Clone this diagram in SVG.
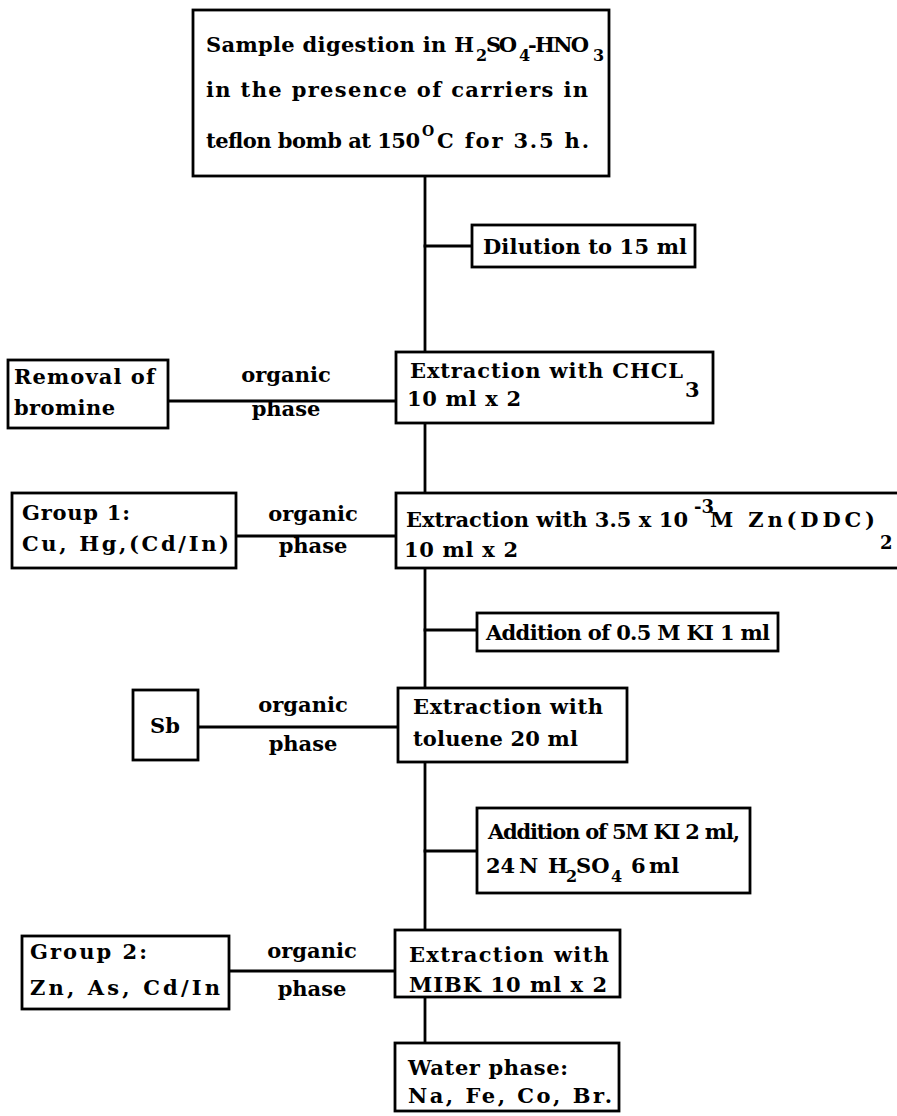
<svg xmlns="http://www.w3.org/2000/svg" width="897" height="1116" viewBox="0 0 897 1116">
<style>
.box{fill:#fff;stroke:#000;stroke-width:2.8}
.ln{stroke:#000;stroke-width:2.8;fill:none;stroke-linecap:square}
.t{font-family:"DejaVu Serif","Liberation Serif",serif;font-weight:bold;font-size:21px;fill:#000}
.s{font-family:"DejaVu Serif","Liberation Serif",serif;font-weight:bold;font-size:16px;fill:#000}
.c{text-anchor:middle}
</style>
<rect width="897" height="1116" fill="#fff"/>
<g id="connectors">
<path class="ln" d="M425,176V352M425,423V493M425,568V688M425,762V930M425,997V1043"/>
<path class="ln" d="M425,246H472M425,630H477M425,851H477"/>
<path class="ln" d="M168,401H396M236,536H396M198,727H398M229,971H395"/>
<text class="t c" x="286" y="382">organic</text>
<text class="t c" x="286" y="416">phase</text>
<text class="t c" x="313" y="521">organic</text>
<text class="t c" x="313" y="553">phase</text>
<text class="t c" x="303" y="712">organic</text>
<text class="t c" x="303" y="751">phase</text>
<text class="t c" x="312" y="958">organic</text>
<text class="t c" x="312" y="996">phase</text>
</g>
<g id="digestion">
<rect class="box" x="193" y="10" width="416" height="166"/>
<text class="t" x="206" y="52" textLength="268" lengthAdjust="spacing">Sample digestion in H</text>
<text class="s" x="476" y="61">2</text>
<text class="t" x="486" y="52" textLength="31" lengthAdjust="spacing">SO</text>
<text class="s" x="519" y="61">4</text>
<text class="t" x="528" y="52" textLength="61" lengthAdjust="spacing">-HNO</text>
<text class="s" x="593" y="61">3</text>
<text class="t" x="206" y="97" textLength="382" lengthAdjust="spacing">in the presence of carriers in</text>
<text class="t" x="206" y="148" textLength="214" lengthAdjust="spacing">teflon bomb at 150</text>
<text class="s" x="422" y="136" style="font-size:14px">O</text>
<text class="t" x="437" y="148" textLength="152" lengthAdjust="spacing">C for 3.5 h.</text>
</g>
<g id="dilution">
<rect class="box" x="472" y="225" width="223" height="42"/>
<text class="t" x="483" y="254" textLength="204" lengthAdjust="spacing">Dilution to 15 ml</text>
</g>
<g id="extraction-chcl3">
<rect class="box" x="396" y="352" width="317" height="71"/>
<text class="t" x="410" y="378" textLength="273" lengthAdjust="spacing">Extraction with CHCL</text>
<text class="t" x="685" y="397">3</text>
<text class="t" x="407" y="406" textLength="114" lengthAdjust="spacing">10 ml x 2</text>
</g>
<g id="removal-bromine">
<rect class="box" x="8" y="360" width="160" height="68"/>
<text class="t" x="14" y="384" textLength="141" lengthAdjust="spacing">Removal of</text>
<text class="t" x="14" y="415" textLength="101" lengthAdjust="spacing">bromine</text>
</g>
<g id="extraction-zndcc">
<rect class="box" x="396" y="493" width="520" height="75"/>
<text class="t" x="406" y="527" textLength="282" lengthAdjust="spacing">Extraction with 3.5 x 10</text>
<text class="t" x="694" y="513" style="font-size:18px">-3</text>
<text class="t" x="710" y="527" textLength="165" lengthAdjust="spacing">M Zn(DDC)</text>
<text class="t" x="880" y="549" style="font-size:18px">2</text>
<text class="t" x="404" y="557" textLength="114" lengthAdjust="spacing">10 ml x 2</text>
</g>
<g id="group1">
<rect class="box" x="12" y="493" width="224" height="75"/>
<text class="t" x="22" y="520" textLength="108" lengthAdjust="spacing">Group 1:</text>
<text class="t" x="22" y="551" textLength="207" lengthAdjust="spacing">Cu, Hg,(Cd/In)</text>
</g>
<g id="addition-ki">
<rect class="box" x="477" y="613" width="301" height="38"/>
<text class="t" x="486" y="640" textLength="284" lengthAdjust="spacing">Addition of 0.5 M KI 1 ml</text>
</g>
<g id="extraction-toluene">
<rect class="box" x="398" y="688" width="229" height="74"/>
<text class="t" x="413" y="714" textLength="190" lengthAdjust="spacing">Extraction with</text>
<text class="t" x="413" y="746" textLength="165" lengthAdjust="spacing">toluene 20 ml</text>
</g>
<g id="sb">
<rect class="box" x="133" y="690" width="65" height="70"/>
<text class="t c" x="165" y="733">Sb</text>
</g>
<g id="addition-ki-h2so4">
<rect class="box" x="477" y="808" width="273" height="85"/>
<text class="t" x="488" y="839" textLength="252" lengthAdjust="spacing">Addition of 5M KI 2 ml,</text>
<text class="t" x="486" y="873">24</text>
<text class="t" x="519" y="873">N</text>
<text class="t" x="548" y="873">H</text>
<text class="s" x="566" y="882">2</text>
<text class="t" x="576" y="873">SO</text>
<text class="s" x="611" y="882">4</text>
<text class="t" x="631" y="873">6</text>
<text class="t" x="649" y="873">ml</text>
</g>
<g id="group2">
<rect class="box" x="22" y="936" width="207" height="73"/>
<text class="t" x="30" y="959" textLength="117" lengthAdjust="spacing">Group 2:</text>
<text class="t" x="30" y="995" textLength="190" lengthAdjust="spacing">Zn, As, Cd/In</text>
</g>
<g id="extraction-mibk">
<rect class="box" x="395" y="930" width="225" height="67"/>
<text class="t" x="409" y="962" textLength="200" lengthAdjust="spacing">Extraction with</text>
<text class="t" x="409" y="992" textLength="198" lengthAdjust="spacing">MIBK 10 ml x 2</text>
</g>
<g id="water-phase">
<rect class="box" x="395" y="1043" width="224" height="68"/>
<text class="t" x="408" y="1075" textLength="160" lengthAdjust="spacing">Water phase:</text>
<text class="t" x="408" y="1103" textLength="204" lengthAdjust="spacing">Na, Fe, Co, Br.</text>
</g>
</svg>
